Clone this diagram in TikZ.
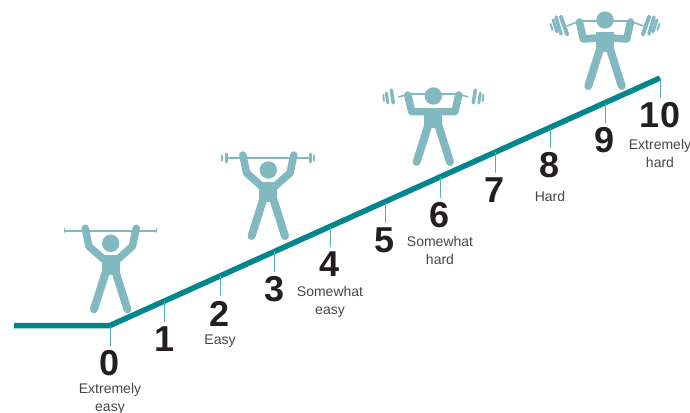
\documentclass[tikz,border=0pt]{standalone}
\usepackage{fontspec}
\setmainfont{Liberation Sans}
\usepackage{tikz}
\usetikzlibrary{positioning, calc}
\definecolor{rampteal}{RGB}{0,134,143}
\definecolor{tickteal}{RGB}{80,176,182}
\definecolor{lifterblue}{RGB}{130,184,191}
\definecolor{numblack}{RGB}{35,31,32}
\definecolor{labgray}{RGB}{70,70,72}

\begin{document}
\begin{tikzpicture}[
  x=1pt, y=-1pt,
  num/.style={inner xsep=0pt, inner ysep=4.5pt, font=\fontsize{36}{36}\selectfont\bfseries, text=numblack},
  lab/.style={inner sep=0pt, align=center, font=\fontsize{14}{18}\selectfont, text=labgray},
  ramp/.style={line width=5.5pt, rampteal, line join=round},
  tick/.style={line width=1pt, tickteal},
  limb/.style={line width=7.5pt, lifterblue, line cap=round, line join=round},
  bar/.style={line width=1.6pt, lifterblue},
  plate/.style={line width=3pt, lifterblue, line cap=round},
  lifter/.pic={
    \fill[lifterblue] (0,0) circle (8.7);
    \fill[lifterblue] (-9,12) rectangle (9,32);
    \draw[limb, line width=8pt] (-5,29) -- (-16.7,66);
    \draw[limb, line width=8pt] (5,29) -- (16.7,66);
  }
]
  \useasboundingbox (0,0) rectangle (690,412);

  % lifters
  \begin{scope}[shift={(110.7,243.3)}]
    \draw[bar] (-46,-12.5) -- (46,-12.5);
    \draw[bar, line width=1pt] (-46,-15) -- (-46,-10) (46,-15) -- (46,-10);
    \pic {lifter};
    \draw[limb] (-7,16) -- (-21.7,3) -- (-25.5,-15);
    \draw[limb] (7,16) -- (21.7,3) -- (25.5,-15);
  \end{scope}

  \begin{scope}[shift={(268.3,170)}]
    \draw[bar] (-41,-12) -- (41,-12);
    \draw[plate] (-42,-16) -- (-42,-8) (42,-16) -- (42,-8);
    \draw[plate, line width=2pt] (-46,-14.5) -- (-46,-9.5) (46,-14.5) -- (46,-9.5);
    \pic {lifter};
    \draw[limb] (-7,16) -- (-21.7,3) -- (-25.5,-15);
    \draw[limb] (7,16) -- (21.7,3) -- (25.5,-15);
  \end{scope}

  \begin{scope}[shift={(433.3,96)}]
    \draw[bar] (-35,1) -- (-24,-2) -- (24,-2) -- (35,1);
    \draw[plate, line width=3.5pt] (-42,-6) -- (-40,7) (42,-6) -- (40,7);
    \draw[plate, line width=3pt] (-47,-3) -- (-45.5,7) (47,-3) -- (45.5,7);
    \draw[plate, line width=2pt] (-50,-1) -- (-49.5,5) (50,-1) -- (49.5,5);
    \pic {lifter};
    \draw[limb] (-7,15.5) -- (-21.7,15.5) -- (-25.5,-1);
    \draw[limb] (7,15.5) -- (21.7,15.5) -- (25.5,-1);
  \end{scope}

  \begin{scope}[shift={(605,20)}]
    \draw[bar] (-38,6) -- (-25,1) -- (25,1) -- (38,6);
    \draw[plate, line width=4pt] (-44,-3) -- (-38,14) (44,-3) -- (38,14);
    \draw[plate, line width=3.5pt] (-49,-3) -- (-44,14) (49,-3) -- (44,14);
    \draw[plate, line width=3pt] (-52,0) -- (-48,12) (52,0) -- (48,12);
    \draw[plate, line width=2pt] (-54.5,4) -- (-52.5,10) (54.5,4) -- (52.5,10);
    \pic {lifter};
    \draw[limb] (-7,18) -- (-21.7,19) -- (-25.5,2);
    \draw[limb] (7,18) -- (21.7,19) -- (25.5,2);
  \end{scope}

  % the slope
  \coordinate (start) at (14,325.5);
  \coordinate (ramp0) at (110,325.5);
  \coordinate (ramp10) at (660,78);
  \draw[ramp] (start) -- (ramp0) -- (ramp10);
  \foreach \i in {1,...,9}
    \coordinate (ramp\i) at ($(ramp0)!\i/10!(ramp10)$);

  % numbers
  \node[num] (num0) at (110,363) {0};
  \node[num] (num1) at (165,339) {1};
  \node[num] (num2) at (220,313.5) {2};
  \node[num] (num3) at (275,289) {3};
  \node[num] (num4) at (330,264) {4};
  \node[num] (num5) at (385,240) {5};
  \node[num] (num6) at (440,215) {6};
  \node[num] (num7) at (495,190) {7};
  \node[num] (num8) at (550,165) {8};
  \node[num] (num9) at (605,140) {9};
  \node[num] (num10) at (660,115) {10};

  \foreach \i in {0,...,10}
    \draw[tick] (ramp\i) -- (ramp\i |- num\i.north);

  % descriptions
  \node[lab] (lab0) at (110,398.5) {Extremely\\easy};
  \node[lab] (lab2) at (220,341) {Easy};
  \node[lab] (lab4) at (330,302) {Somewhat\\easy};
  \node[lab] (lab6) at (440,250) {Somewhat\\hard};
  \node[lab] (lab8) at (550,196) {Hard};
  \node[lab] (lab10) at (660,153) {Extremely\\hard};
\end{tikzpicture}
\end{document}
